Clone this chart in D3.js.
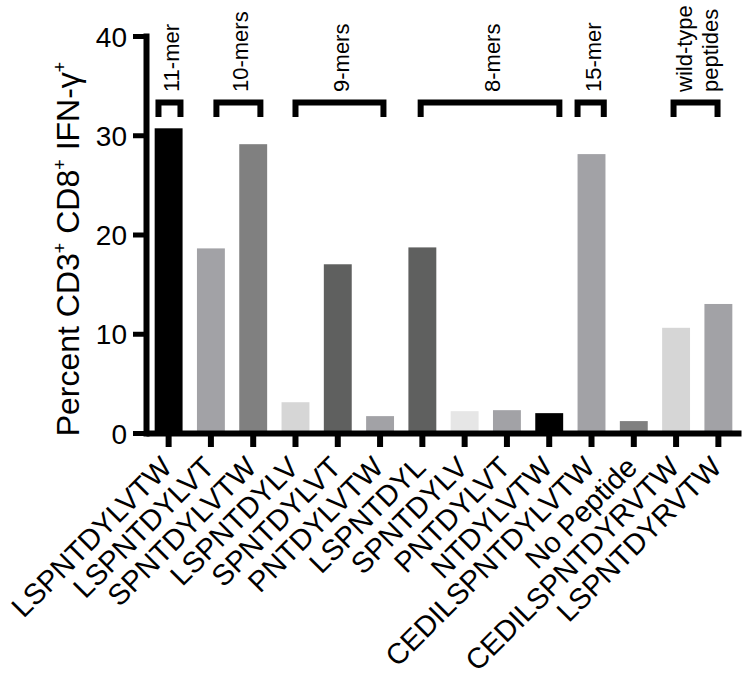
<!DOCTYPE html>
<html>
<head>
<meta charset="utf-8">
<script src="https://cdn.jsdelivr.net/npm/d3@7"></script>
<style>
  html, body { margin: 0; padding: 0; background: #fff; }
  svg { display: block; font-family: "Liberation Sans", Arial, Helvetica, sans-serif; }
</style>
</head>
<body>
<svg id="chart" width="744" height="678"></svg>
<script>
// ---- data ----
const categories = [
  "LSPNTDYLVTW", "LSPNTDYLVT", "SPNTDYLVTW", "LSPNTDYLV", "SPNTDYLVT",
  "PNTDYLVTW", "LSPNTDYL", "SPNTDYLV", "PNTDYLVT", "NTDYLVTW",
  "CEDILSPNTDYLVTW", "No Peptide", "CEDILSPNTDYRVTW", "LSPNTDYRVTW"
];
const values = [30.7, 18.6, 29.1, 3.1, 17.0, 1.7, 18.7, 2.2, 2.3, 2.0, 28.1, 1.2, 10.6, 13.0];
const yTicks = [0, 10, 20, 30, 40];
const groupLabels = [["11-mer"], ["10-mers"], ["9-mers"], ["8-mers"], ["15-mer"], ["wild-type", "peptides"]];
const groupStart = [-0.24, 1.13, 3.00, 5.96, 9.67, 11.94];   // in category-index units
const groupEnd   = [0.28, 2.17, 5.08, 9.24, 10.29, 12.98];

// ---- styles ----
const barPalette = ["#000000", "#a2a2a6", "#808080", "#d6d6d6", "#5f605f", "#a2a2a6", "#5f605f",
                    "#e6e6e6", "#a2a2a6", "#000000", "#a2a2a6", "#808080", "#d6d6d6", "#a2a2a6"];

const svg = d3.select("#chart");

const x = d3.scaleBand()
  .domain(categories)
  .range([146, 741])
  .paddingInner(0.34)
  .paddingOuter(0.205);

const y = d3.scaleLinear().domain([0, 40]).range([433, 36]);

const color = d3.scaleOrdinal().domain(categories).range(barPalette);

// index -> pixel (band centers)
const idx = d3.scaleLinear()
  .domain([0, categories.length - 1])
  .range([x(categories[0]) + x.bandwidth() / 2, x(categories[categories.length - 1]) + x.bandwidth() / 2]);

// bars
svg.append("g")
  .selectAll("rect")
  .data(categories)
  .join("rect")
  .attr("x", d => x(d))
  .attr("width", x.bandwidth())
  .attr("y", (d, i) => y(values[i]))
  .attr("height", (d, i) => y(0) - y(values[i]))
  .attr("fill", d => color(d));

// y axis
const yAxis = svg.append("g")
  .attr("transform", "translate(146,0)")
  .call(d3.axisLeft(y).tickValues(yTicks).tickSize(13).tickSizeOuter(0).tickPadding(6));
yAxis.select(".domain").attr("stroke", "#000").attr("stroke-width", 6).attr("stroke-linecap", "square");
yAxis.selectAll(".tick line").attr("stroke", "#000").attr("stroke-width", 5);
yAxis.selectAll(".tick text")
  .attr("fill", "#000")
  .style("font-size", "28px")
  .attr("dy", "0.36em");

// x axis
const xAxis = svg.append("g")
  .attr("transform", "translate(0,433)")
  .call(d3.axisBottom(x).tickSize(14).tickSizeOuter(0));
xAxis.select(".domain").attr("stroke", "#000").attr("stroke-width", 6);
xAxis.selectAll(".tick line").attr("stroke", "#000").attr("stroke-width", 6);
xAxis.selectAll(".tick text")
  .attr("fill", "#000")
  .style("font-size", "29px")
  .style("text-anchor", "end")
  .attr("x", 0).attr("y", 0).attr("dy", 0)
  .attr("transform", "translate(5,36) rotate(-45)");

// y title
const title = svg.append("text")
  .attr("transform", "translate(79,249) rotate(-90)")
  .attr("text-anchor", "middle")
  .attr("fill", "#000")
  .style("font-size", "32px");
const parts = [["Percent CD3", false], ["+", true], [" CD8", false], ["+", true], [" IFN-\u03b3", false], ["+", true]];
parts.forEach(([t, sup]) => {
  const ts = title.append("tspan").text(t);
  if (sup) ts.style("font-size", "18px").attr("dy", -13);
  else ts.attr("dy", 13);
});
title.select("tspan").attr("dy", 0);

// group brackets and labels
const groups = svg.append("g");
groupLabels.forEach((lab, i) => {
  const x0 = idx(groupStart[i]);
  const x1 = idx(groupEnd[i]);
  groups.append("path")
    .attr("d", `M${x0},117V102.5H${x1}V117`)
    .attr("fill", "none")
    .attr("stroke", "#000")
    .attr("stroke-width", 6)
    .attr("stroke-linejoin", "miter");
  const cx = (x0 + x1) / 2 + 2;
  const t = groups.append("text")
    .attr("transform", `translate(${cx},92) rotate(-90)`)
    .attr("text-anchor", "start")
    .attr("fill", "#000")
    .style("font-size", "22px");
  if (lab.length === 1) {
    t.append("tspan").attr("x", 0).attr("dy", "0.36em").text(lab[0]);
  } else {
    t.append("tspan").attr("x", 0).attr("dy", "-0.25em").text(lab[0]);
    t.append("tspan").attr("x", 0).attr("dy", "1.2em").text(lab[1]);
  }
});
</script>
</body>
</html>
